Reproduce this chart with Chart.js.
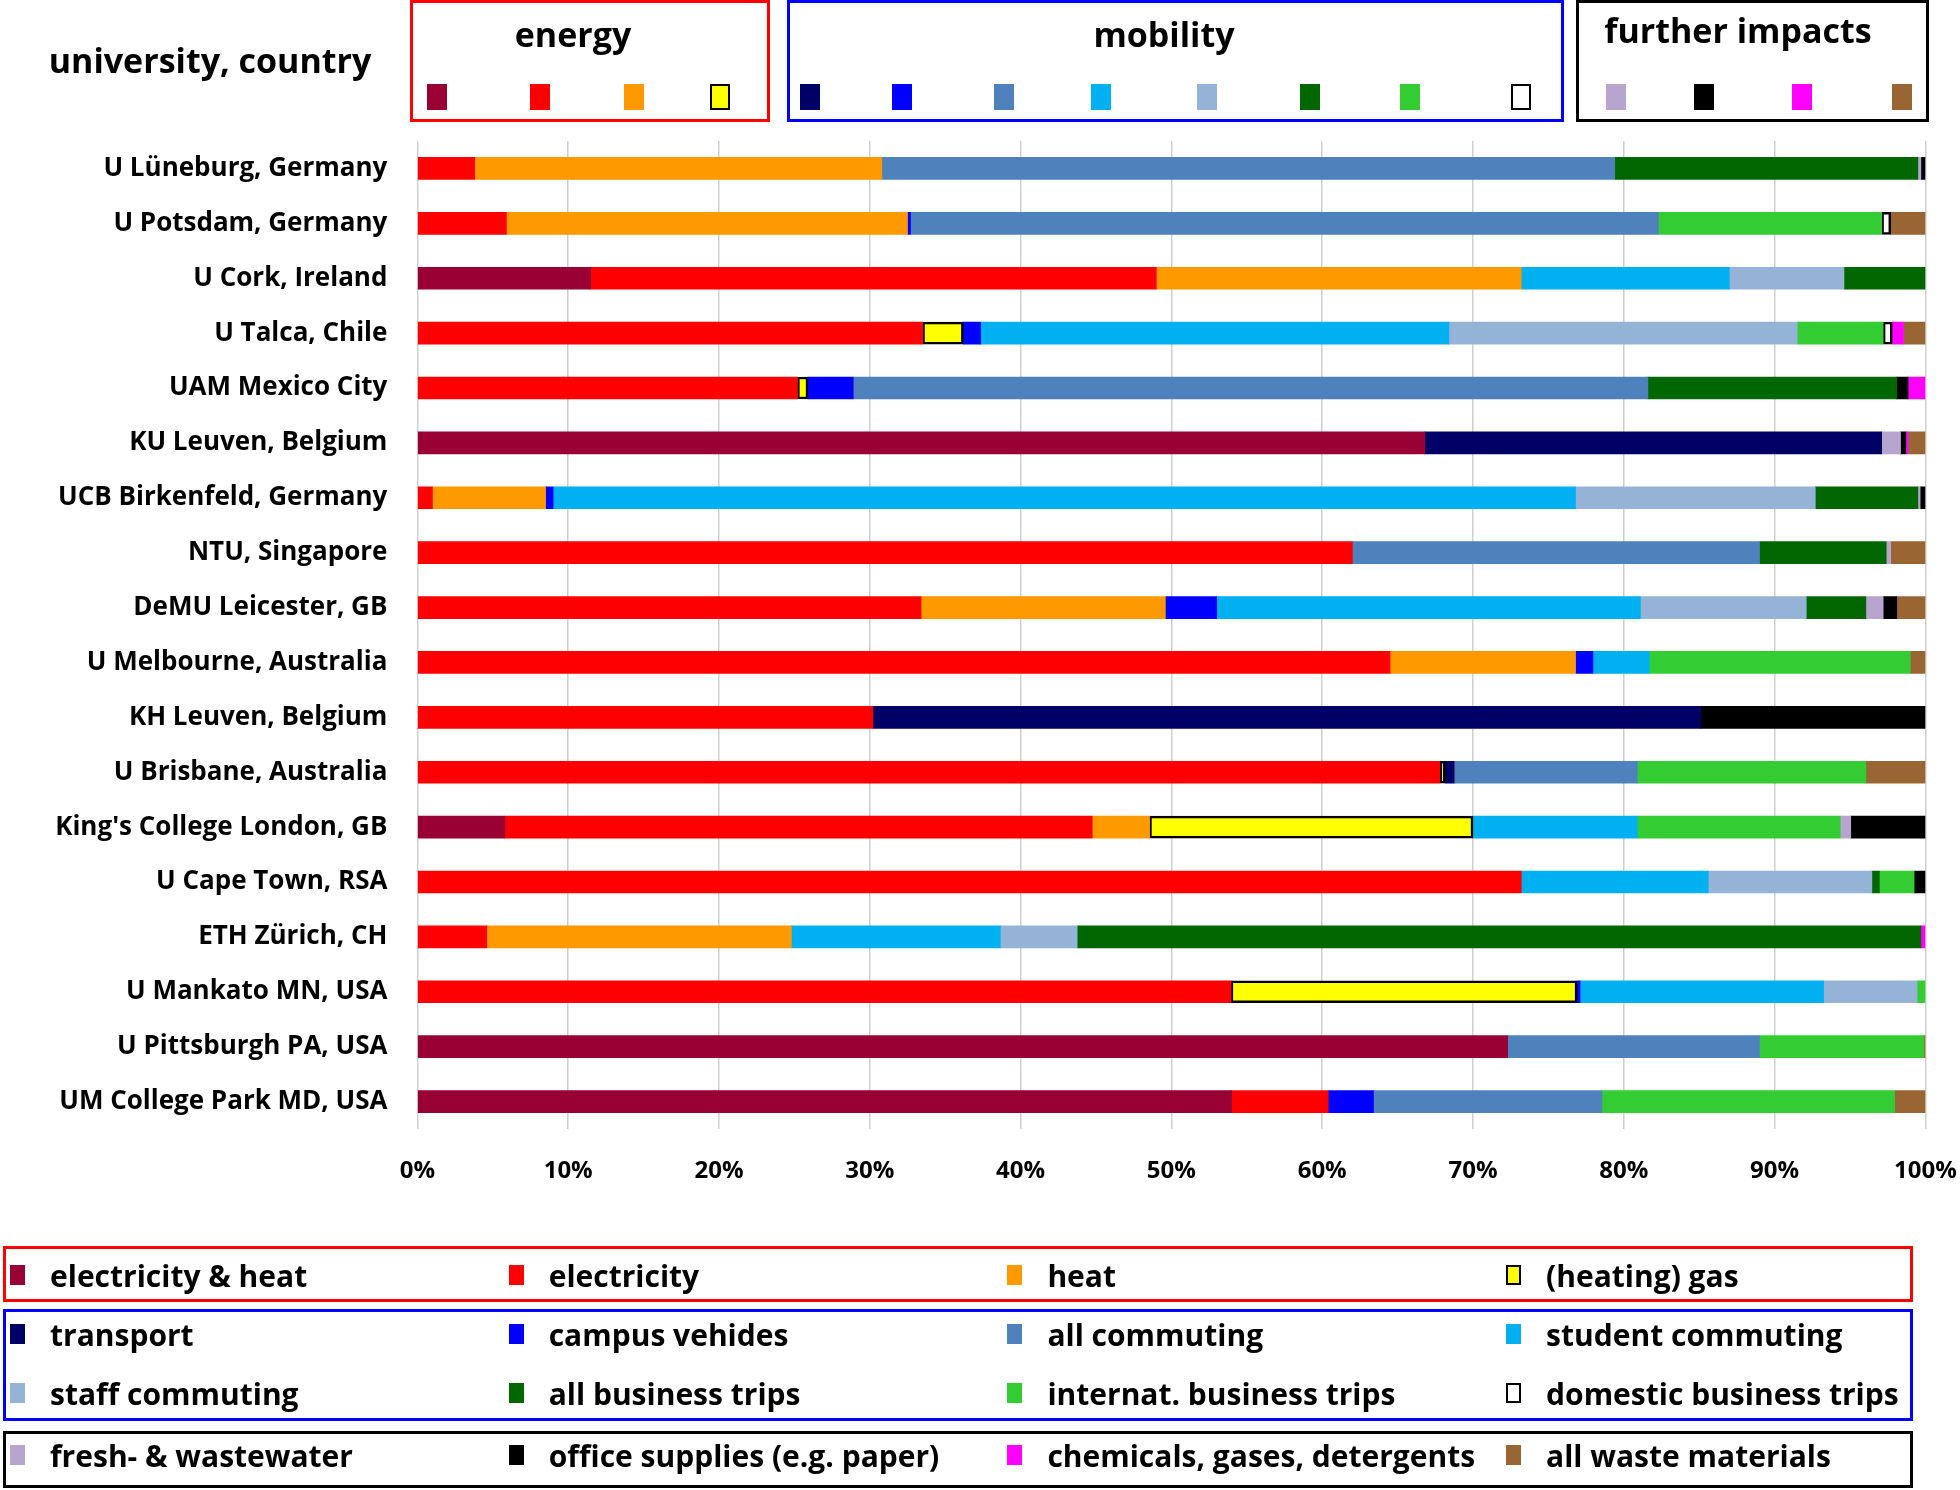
<!DOCTYPE html>
<html>
<head>
<meta charset="utf-8">
<script src="https://cdn.jsdelivr.net/npm/chart.js@4.4.0/dist/chart.umd.min.js"></script>
<style>
body { margin: 0; background: #fff; font-family: 'Open Sans', sans-serif; font-weight: 700; color: #000; }
#wrap { position: relative; width: 1960px; height: 1490px; overflow: hidden; }
canvas { position: absolute; left: 0; top: 0; }
.box { position: absolute; box-sizing: border-box; border: 3px solid; }
.title { position: absolute; transform: translate(-50%, -50%); white-space: nowrap; font-size: 34px; }
.sq { position: absolute; box-sizing: border-box; }
.item { position: absolute; white-space: nowrap; font-size: 30px; transform: translateY(-50%); }
</style>
</head>
<body>
<div id="wrap"><canvas id="graph" width="1960" height="1490"></canvas></div>
<script>
// universities, top to bottom
let universities = ['U Lüneburg, Germany', 'U Potsdam, Germany', 'U Cork, Ireland', 'U Talca, Chile', 'UAM Mexico City',
    'KU Leuven, Belgium', 'UCB Birkenfeld, Germany', 'NTU, Singapore', 'DeMU Leicester, GB', 'U Melbourne, Australia',
    'KH Leuven, Belgium', 'U Brisbane, Australia', "King's College London, GB", 'U Cape Town, RSA', 'ETH Zürich, CH',
    'U Mankato MN, USA', 'U Pittsburgh PA, USA', 'UM College Park MD, USA']

// shares in % per university (same order as above)
let elecHeat = [0, 0, 11.5, 0, 0, 66.8, 0, 0, 0, 0, 0, 0, 5.8, 0, 0, 0, 72.3, 54.0]
let electricity = [3.8, 5.9, 37.5, 33.5, 25.2, 0, 1.0, 62.0, 33.4, 64.5, 30.2, 67.8, 38.95, 73.2, 4.6, 53.95, 0, 6.4]
let heat = [27.0, 26.6, 24.2, 0, 0, 0, 7.5, 0, 16.2, 12.3, 0, 0, 3.8, 0, 20.2, 0, 0, 0]
let gas = [0, 0, 0, 2.7, 0.7, 0, 0, 0, 0, 0, 0, 0.35, 21.45, 0, 0, 22.95, 0, 0]
let transport = [0, 0, 0, 0, 0, 30.3, 0, 0, 0, 0, 54.9, 0.6, 0, 0, 0, 0, 0, 0]
let campusVehicles = [0, 0.2, 0, 1.15, 3.0, 0, 0.5, 0, 3.4, 1.15, 0, 0, 0, 0, 0, 0.2, 0, 3.0]
let allCommuting = [48.6, 49.6, 0, 0, 52.7, 0, 0, 27.0, 0, 0, 0, 12.15, 0, 0, 0, 0, 16.7, 15.15]
let studentCommuting = [0, 0, 13.8, 31.05, 0, 0, 67.8, 0, 28.1, 3.75, 0, 0, 10.9, 12.4, 13.85, 16.15, 0, 0]
let staffCommuting = [0, 0, 7.6, 23.1, 0, 0, 15.9, 0, 11.0, 0, 0, 0, 0, 10.85, 5.1, 6.2, 0, 0]
let allBusiness = [20.1, 0, 5.4, 0, 16.5, 0, 6.8, 8.4, 3.95, 0, 0, 0, 0, 0.5, 55.95, 0, 0, 0]
let internatBusiness = [0, 14.8, 0, 5.7, 0, 0, 0, 0, 0, 17.3, 0, 15.15, 13.45, 2.3, 0, 0.55, 10.9, 19.4]
let domesticBusiness = [0, 0.6, 0, 0.6, 0, 0, 0, 0, 0, 0, 0, 0, 0, 0, 0, 0, 0, 0]
let freshWater = [0.2, 0, 0, 0, 0, 1.25, 0.15, 0.3, 1.15, 0, 0, 0, 0.7, 0, 0, 0, 0, 0]
let officeSupplies = [0.3, 0, 0, 0, 0.75, 0.35, 0.35, 0, 0.9, 0, 14.9, 0, 4.95, 0.75, 0, 0, 0, 0]
let chemicals = [0, 0, 0, 0.75, 1.15, 0.15, 0, 0, 0, 0, 0, 0, 0, 0, 0.3, 0, 0, 0]
let waste = [0, 2.3, 0, 1.45, 0, 1.15, 0, 2.3, 1.9, 1.0, 0, 3.95, 0, 0, 0, 0, 0.1, 2.05]

let xTicks = [0, 10, 20, 30, 40, 50, 60, 70, 80, 90, 100]

let series = [
    { label: 'electricity & heat', data: elecHeat, color: '#990033' },
    { label: 'electricity', data: electricity, color: '#FF0000' },
    { label: 'heat', data: heat, color: '#FF9900' },
    { label: '(heating) gas', data: gas, color: '#FFFF00', outline: true },
    { label: 'transport', data: transport, color: '#000066' },
    { label: 'campus vehides', data: campusVehicles, color: '#0000FF' },
    { label: 'all commuting', data: allCommuting, color: '#4F81BD' },
    { label: 'student commuting', data: studentCommuting, color: '#00B0F0' },
    { label: 'staff commuting', data: staffCommuting, color: '#95B3D7' },
    { label: 'all business trips', data: allBusiness, color: '#006600' },
    { label: 'internat. business trips', data: internatBusiness, color: '#33CC33' },
    { label: 'domestic business trips', data: domesticBusiness, color: '#FFFFFF', outline: true },
    { label: 'fresh- & wastewater', data: freshWater, color: '#B7A5CF' },
    { label: 'office supplies (e.g. paper)', data: officeSupplies, color: '#000000' },
    { label: 'chemicals, gases, detergents', data: chemicals, color: '#FF00FF' },
    { label: 'all waste materials', data: waste, color: '#996633' }
]

let graph = document.getElementById('graph').getContext('2d')

new Chart(graph, {
    type: 'bar',
    data: {
        labels: universities,
        datasets: series.map(s => ({
            label: s.label,
            data: s.data.map(v => v || null),
            backgroundColor: s.color,
            borderColor: '#000',
            borderWidth: s.outline ? 2.5 : 0,
            borderSkipped: false,
            barThickness: 22
        }))
    },
    options: {
        indexAxis: 'y',
        responsive: false,
        animation: false,
        layout: { padding: { top: 141, right: 34.6, bottom: 301, left: 0 } },
        plugins: { legend: { display: false }, tooltip: { enabled: false } },
        scales: {
            x: {
                stacked: true,
                min: 0,
                max: 100,
                afterBuildTicks: scale => { scale.ticks = xTicks.map(v => ({ value: v })) },
                afterFit: scale => {
                    scale.height = 60
                    scale.paddingLeft = 0
                    scale.paddingRight = 0
                },
                grid: { color: '#cfcfcf', lineWidth: 1.5, drawTicks: false },
                border: { display: false },
                ticks: {
                    padding: 28,
                    color: '#000',
                    font: { family: 'Open Sans', weight: 'bold', size: 24 },
                    callback: v => v + '%'
                }
            },
            y: {
                stacked: true,
                afterFit: scale => { scale.width = 417.4 },
                grid: { display: false, drawTicks: false },
                border: { display: false },
                ticks: {
                    padding: 30,
                    color: '#000',
                    font: { family: 'Open Sans', weight: 'bold', size: 26 }
                }
            }
        }
    }
})

// header and bottom legend
let wrap = document.getElementById('wrap')

function addDiv(cls, css, text) {
    let d = document.createElement('div')
    d.className = cls
    Object.assign(d.style, css)
    if (text) d.textContent = text
    wrap.appendChild(d)
    return d
}

function square(s, x, y, w, h) {
    addDiv('sq', {
        left: x + 'px', top: y + 'px', width: w + 'px', height: h + 'px',
        background: s.color,
        border: s.outline ? '2.5px solid #000' : 'none'
    })
}

addDiv('title', { left: '210px', top: '60px' }, 'university, country')

let groups = [
    { title: 'energy', from: 0, to: 4, border: '#FF0000', x: 410, w: 360, tx: 573, ty: 34,
      sq: [437, 540, 634, 720], ly: 1246, lh: 56, rows: [1275] },
    { title: 'mobility', from: 4, to: 12, border: '#0000FF', x: 787, w: 777, tx: 1164, ty: 34,
      sq: [810, 902, 1004, 1101, 1207, 1310, 1410, 1521], ly: 1309, lh: 112, rows: [1334, 1393] },
    { title: 'further impacts', from: 12, to: 16, border: '#000000', x: 1576, w: 353, tx: 1738, ty: 30,
      sq: [1616, 1704, 1802, 1902], ly: 1431, lh: 57, rows: [1455] }
]

groups.forEach(g => {
    addDiv('box', { left: g.x + 'px', top: '0px', width: g.w + 'px', height: '122px', borderColor: g.border })
    addDiv('title', { left: g.tx + 'px', top: g.ty + 'px' }, g.title)
    addDiv('box', { left: '3px', top: g.ly + 'px', width: '1910px', height: g.lh + 'px', borderColor: g.border })
    for (let i = g.from; i < g.to; i++) {
        let s = series[i]
        let k = i - g.from
        square(s, g.sq[k] - 10, 84, 20, 26)
        let col = k % 4
        let cy = g.rows[Math.floor(k / 4)]
        square(s, 10 + col * 498.7, cy - 10, 15, 20)
        addDiv('item', { left: (50 + col * 498.7) + 'px', top: cy + 'px' }, s.label)
    }
})
</script>
</body>
</html>
